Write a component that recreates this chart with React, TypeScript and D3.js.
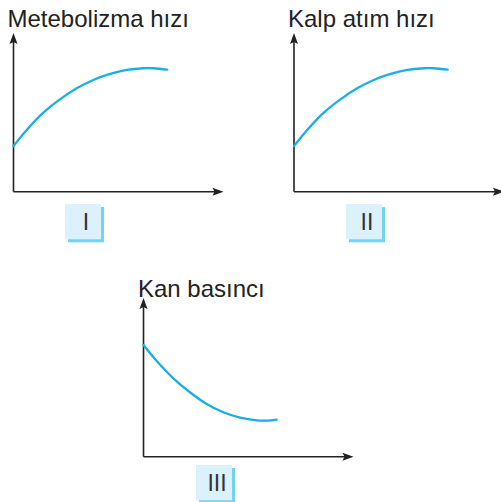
import React from "react";
import * as d3 from "d3";

// Sampled points along each curve (time on x, quantity on y, both on 0–10 scales)
const timeI = [0, 0.63, 1.42, 2.21, 3.01, 3.8, 4.6, 5.39, 6.18, 6.66, 7.32];
const metabolismRate = [2.88, 3.89, 4.98, 5.82, 6.52, 7.04, 7.42, 7.67, 7.78, 7.78, 7.69];

const timeII = [0, 0.63, 1.42, 2.21, 3.01, 3.8, 4.6, 5.39, 6.18, 6.66, 7.32];
const heartRate = [2.88, 3.89, 4.98, 5.82, 6.52, 7.04, 7.42, 7.67, 7.78, 7.78, 7.69];

const timeIII = [0, 0.63, 1.42, 2.21, 3.01, 3.8, 4.6, 5.39, 5.87, 6.34];
const bloodPressure = [7.04, 6.03, 4.94, 4.06, 3.32, 2.8, 2.46, 2.29, 2.27, 2.33];

const titles = ["Metebolizma hızı", "Kalp atım hızı", "Kan basıncı"];
const romanLabels = ["I", "II", "III"];

// Panel placement: axis origin, title anchor, label box
const panels = [
  { ox: 13.5, oy: 191.7, tx: 7.5, ty: 27, bx: 65, by: 204 },
  { ox: 294, oy: 191.7, tx: 288, ty: 27, bx: 346, by: 204 },
  { ox: 143.5, oy: 456.7, tx: 138, ty: 297, bx: 196, by: 465 },
];

const seriesX = [timeI, timeII, timeIII];
const seriesY = [metabolismRate, heartRate, bloodPressure];

const AXIS_W = 210;
const AXIS_H = 158.7;
const BOX_W = 36;
const BOX_H = 35.3;
const FONT = "'Liberation Sans', Arial, Helvetica, sans-serif";
const INK = "#222";
const CURVE = "#1aaee6";
const BOX_FILL = "#dbf1fb";
const BOX_SHADOW = "#74d2f2";

function arrowUp(x: number, y: number) {
  return `M${x},${y} L${x - 4},${y + 11} L${x},${y + 9} L${x + 4},${y + 11} Z`;
}
function arrowRight(x: number, y: number) {
  return `M${x},${y} L${x - 11},${y - 4} L${x - 9},${y} L${x - 11},${y + 4} Z`;
}

function Panel({ i }: { i: number }) {
  const p = panels[i];
  const x = d3.scaleLinear().domain([0, 10]).range([p.ox, p.ox + AXIS_W]);
  const y = d3.scaleLinear().domain([0, 10]).range([p.oy, p.oy - AXIS_H]);
  const pts: [number, number][] = seriesX[i].map((t, k) => [t, seriesY[i][k]]);
  const line = d3
    .line<[number, number]>()
    .x((d) => x(d[0]))
    .y((d) => y(d[1]))
    .curve(d3.curveCatmullRom.alpha(0.5));
  const [x0, x1] = x.range();
  const [y0, y1] = y.range();
  return (
    <g>
      <text x={p.tx} y={p.ty} fontFamily={FONT} fontSize={24} fill={INK}>
        {titles[i]}
      </text>
      <line x1={x0} y1={y0} x2={x0} y2={y1 + 8} stroke={INK} strokeWidth={1.6} />
      <line x1={x0} y1={y0} x2={x1 - 8} y2={y0} stroke={INK} strokeWidth={1.6} />
      <path d={arrowUp(x0, y1)} fill={INK} />
      <path d={arrowRight(x1, y0)} fill={INK} />
      <path d={line(pts) ?? ""} fill="none" stroke={CURVE} strokeWidth={2.3} strokeLinecap="round" />
      <rect x={p.bx + 3} y={p.by + 3} width={BOX_W} height={BOX_H} fill={BOX_SHADOW} />
      <rect x={p.bx} y={p.by} width={BOX_W} height={BOX_H} fill={BOX_FILL} />
      <text
        x={p.bx + BOX_W / 2 + 3}
        y={p.by + 25.7}
        textAnchor="middle"
        fontFamily={FONT}
        fontSize={23}
        fill="#333"
      >
        {romanLabels[i]}
      </text>
    </g>
  );
}

export default function App() {
  return (
    <svg
      width={501}
      height={502}
      viewBox="0 0 501 502"
      style={{ position: "absolute", left: 0, top: 0, background: "#fff" }}
    >
      <rect width={501} height={502} fill="#fff" />
      {panels.map((_, i) => (
        <Panel key={i} i={i} />
      ))}
    </svg>
  );
}
